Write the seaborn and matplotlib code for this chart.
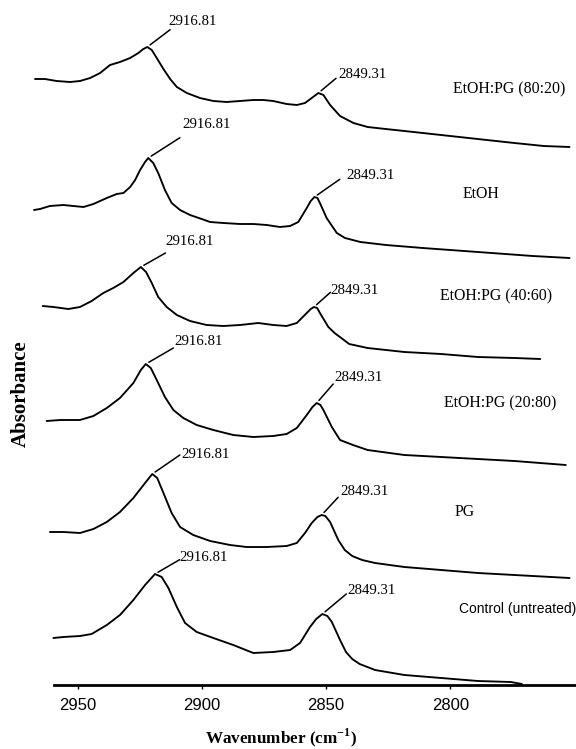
import numpy as np
import matplotlib
matplotlib.use("Agg")
import matplotlib.pyplot as plt
import seaborn as sns

# ---------------- data ----------------
sample_names = ["EtOH:PG (80:20)", "EtOH", "EtOH:PG (40:60)",
                "EtOH:PG (20:80)", "PG", "Control (untreated)"]
peak_labels = ["2916.81", "2849.31"]
x_ticks = [2950, 2900, 2850, 2800]

wn_8020 = [2967.2, 2963.2, 2958.5, 2953.1, 2949.1, 2945.0, 2941.0, 2937.0, 2933.0, 2928.9,
           2925.6, 2923.6, 2922.0, 2920.2, 2918.2, 2915.5, 2912.8, 2910.1, 2906.1, 2900.8,
           2895.4, 2890.0, 2884.7, 2879.3, 2875.3, 2871.3, 2865.9, 2861.8, 2858.5, 2855.8,
           2853.1, 2851.1, 2848.4, 2844.4, 2839.0, 2833.3, 2826.0, 2818.5, 2803.7, 2789.0,
           2774.2, 2762.4, 2752.0]
abs_8020 = [6.06, 6.06, 6.04, 6.03, 6.04, 6.07, 6.12, 6.20, 6.23, 6.27,
            6.32, 6.36, 6.38, 6.35, 6.27, 6.16, 6.06, 5.98, 5.92, 5.87,
            5.84, 5.83, 5.84, 5.85, 5.85, 5.84, 5.81, 5.80, 5.82, 5.87,
            5.92, 5.90, 5.80, 5.69, 5.62, 5.58, 5.56, 5.54, 5.50, 5.46,
            5.42, 5.39, 5.38]

wn_etoh = [2967.6, 2965.2, 2961.2, 2955.8, 2947.7, 2943.7, 2938.3, 2934.3, 2931.6, 2928.9,
           2926.9, 2924.9, 2922.9, 2921.6, 2919.6, 2917.6, 2914.9, 2912.2, 2908.8, 2904.8,
           2900.1, 2896.7, 2891.4, 2884.7, 2879.3, 2873.9, 2868.6, 2864.5, 2861.2, 2857.8,
           2856.2, 2854.7, 2853.5, 2852.5, 2849.8, 2845.7, 2842.4, 2836.2, 2825.9, 2811.1,
           2788.9, 2766.8, 2752.0]
abs_etoh = [4.75, 4.76, 4.79, 4.80, 4.78, 4.81, 4.87, 4.91, 4.92, 4.98,
            5.05, 5.15, 5.23, 5.27, 5.22, 5.12, 4.95, 4.82, 4.75, 4.70,
            4.66, 4.63, 4.62, 4.61, 4.61, 4.60, 4.58, 4.59, 4.63, 4.77,
            4.84, 4.88, 4.87, 4.82, 4.67, 4.52, 4.47, 4.43, 4.40, 4.37,
            4.33, 4.29, 4.27]

wn_4060 = [2964.1, 2959.8, 2953.8, 2949.1, 2944.4, 2939.7, 2935.7, 2931.6, 2927.6, 2924.6,
           2922.5, 2920.2, 2917.6, 2914.2, 2910.1, 2904.8, 2898.1, 2891.4, 2884.7, 2877.3,
           2871.3, 2865.9, 2861.8, 2857.8, 2856.2, 2854.9, 2853.6, 2852.5, 2849.1, 2846.6,
           2840.7, 2833.3, 2818.5, 2803.7, 2788.9, 2774.2, 2763.8]
abs_4060 = [3.79, 3.78, 3.76, 3.78, 3.84, 3.92, 3.97, 4.03, 4.12, 4.18,
            4.13, 4.02, 3.88, 3.78, 3.70, 3.64, 3.60, 3.59, 3.60, 3.62,
            3.60, 3.59, 3.62, 3.72, 3.76, 3.78, 3.77, 3.72, 3.58, 3.52,
            3.41, 3.37, 3.33, 3.31, 3.28, 3.27, 3.26]

wn_2080 = [2962.5, 2957.1, 2949.1, 2943.7, 2938.3, 2933.0, 2927.6, 2924.6, 2922.6, 2920.6,
           2918.2, 2914.9, 2911.5, 2907.5, 2902.1, 2895.4, 2887.4, 2879.3, 2871.3, 2865.9,
           2861.8, 2857.8, 2855.5, 2853.8, 2852.3, 2851.1, 2847.7, 2844.4, 2839.2, 2833.3,
           2818.5, 2803.7, 2788.9, 2774.2, 2753.5]
abs_2080 = [2.64, 2.65, 2.65, 2.69, 2.77, 2.87, 3.02, 3.15, 3.21, 3.17,
            3.05, 2.88, 2.75, 2.67, 2.60, 2.55, 2.50, 2.48, 2.49, 2.51,
            2.57, 2.70, 2.78, 2.82, 2.80, 2.75, 2.58, 2.45, 2.40, 2.35,
            2.30, 2.28, 2.26, 2.24, 2.20]

wn_pg = [2961.2, 2955.8, 2949.1, 2943.7, 2938.3, 2933.0, 2927.6, 2922.9, 2920.0, 2918.0,
         2915.5, 2912.2, 2908.8, 2903.5, 2896.7, 2888.7, 2882.0, 2873.9, 2865.9, 2861.8,
         2858.5, 2855.8, 2853.5, 2851.8, 2850.3, 2848.4, 2845.1, 2842.5, 2839.5, 2835.5,
         2830.3, 2818.5, 2803.7, 2788.9, 2774.2, 2752.0]
abs_pg = [1.53, 1.53, 1.52, 1.56, 1.63, 1.73, 1.87, 2.02, 2.11, 2.07,
          1.92, 1.72, 1.58, 1.50, 1.44, 1.40, 1.38, 1.38, 1.39, 1.42,
          1.52, 1.62, 1.68, 1.70, 1.69, 1.63, 1.45, 1.35, 1.29, 1.25,
          1.22, 1.18, 1.15, 1.12, 1.10, 1.07]

wn_ctrl = [2959.8, 2955.8, 2949.1, 2944.4, 2938.3, 2933.0, 2927.6, 2922.9, 2918.9, 2916.2,
           2913.5, 2910.1, 2906.8, 2902.1, 2895.4, 2887.4, 2879.3, 2871.3, 2864.5, 2860.5,
           2856.5, 2854.0, 2851.5, 2849.5, 2847.7, 2844.4, 2842.0, 2839.5, 2836.5, 2830.3,
           2818.5, 2803.7, 2788.9, 2775.7, 2771.2]
abs_ctrl = [0.47, 0.48, 0.49, 0.51, 0.60, 0.70, 0.85, 1.00, 1.11, 1.08,
            0.97, 0.78, 0.62, 0.53, 0.47, 0.40, 0.32, 0.33, 0.35, 0.42,
            0.58, 0.66, 0.71, 0.69, 0.63, 0.45, 0.33, 0.26, 0.21, 0.15,
            0.10, 0.07, 0.04, 0.03, 0.01]

spectra = [(wn_8020, abs_8020), (wn_etoh, abs_etoh), (wn_4060, abs_4060),
           (wn_2080, abs_2080), (wn_pg, abs_pg), (wn_ctrl, abs_ctrl)]

# ---------------- layout / style (not data) ----------------
label_pos = [(2776.4, 5.96), (2787.5, 4.91), (2781.6, 3.89),
             (2779.9, 2.82), (2794.1, 1.73), (2773.0, 0.76)]
# leader-line end and text offsets (pixels) relative to each peak
line_off = [[(22.8, 17.3), (17.6, 14.7)], [(31.6, 20.3), (25.3, 17.7)],
            [(24.6, 14), (16.5, 14.7)], [(27.6, 16), (16.5, 19)],
            [(27.6, 19), (16.5, 17.7)], [(24.6, 14.3), (23.9, 20)]]
text_off = [[(20.6, 22.3), (19.8, 14.7)], [(33.8, 30.3), (32.0, 17.7)],
            [(24.6, 21.7), (16.5, 12.7)], [(28.7, 19.3), (17.3, 22.3)],
            [(29.4, 15.7), (18.4, 20)], [(24.6, 12.6), (25.0, 20)]]

sns.set_theme(style="white")
plt.rcParams["font.family"] = ["Liberation Serif", "DejaVu Serif"]
plt.rcParams["mathtext.fontset"] = "custom"
plt.rcParams["mathtext.rm"] = "Liberation Serif"
plt.rcParams["mathtext.bf"] = "Liberation Serif:bold"

fig = plt.figure(figsize=(5.76, 7.49), dpi=100)
ax = fig.add_axes([0, 64 / 749, 1, 685 / 749])

for (wn, ab) in spectra:
    sns.lineplot(x=wn, y=ab, sort=False, estimator=None, color="black",
                 lw=1.35, ax=ax, legend=False)

ax.set_xlim(2981.3, 2749.4)
ax.set_ylim(0, 6.85)

for i, (wn, ab) in enumerate(spectra):
    wn_a = np.asarray(wn)
    ab_a = np.asarray(ab)
    regions = [(wn_a > 2890), (wn_a < 2870) & (wn_a > 2835)]
    for j, mask in enumerate(regions):
        idx = np.where(mask)[0][np.argmax(ab_a[mask])]
        pk = (wn_a[idx], ab_a[idx])
        ax.annotate("", xy=pk, xytext=line_off[i][j], textcoords="offset pixels",
                    arrowprops=dict(arrowstyle="-", color="black", lw=1.1,
                                    shrinkA=0, shrinkB=2.5))
        ax.annotate(peak_labels[j], xy=pk, xytext=text_off[i][j],
                    textcoords="offset pixels", ha="left", va="baseline",
                    fontsize=10.7, color="black")
    fam = "Liberation Sans" if i == 5 else "Liberation Serif"
    fs = 10.0 if i == 5 else 11.4
    ax.text(label_pos[i][0], label_pos[i][1], sample_names[i], ha="center",
            va="center", fontsize=fs, family=fam, color="black")

for s in ["top", "right", "left"]:
    ax.spines[s].set_visible(False)
ax.spines["bottom"].set_color("black")
ax.spines["bottom"].set_linewidth(2)
ax.spines["bottom"].set_bounds(2959.5, 2749.4)

ax.set_yticks([])
ax.set_xticks(x_ticks)
ax.set_xticklabels([str(t) for t in x_ticks], family="Liberation Sans", fontsize=12)
ax.tick_params(axis="x", bottom=True, length=3, width=1, color="black",
               direction="out", pad=6, labelcolor="black")

ax.set_xlabel(r"Wavenumber (cm$^{\mathbf{-1}}$)", fontsize=12.3, fontweight="bold",
              color="black")
ax.xaxis.set_label_coords(281 / 576, -0.077)
ax.xaxis.label.set_va("center")
ax.set_ylabel("Absorbance", fontsize=15, fontweight="bold", color="black")
ax.yaxis.set_label_coords(0.054, 0.426)

fig.savefig("out.png", dpi=100, facecolor="white")
